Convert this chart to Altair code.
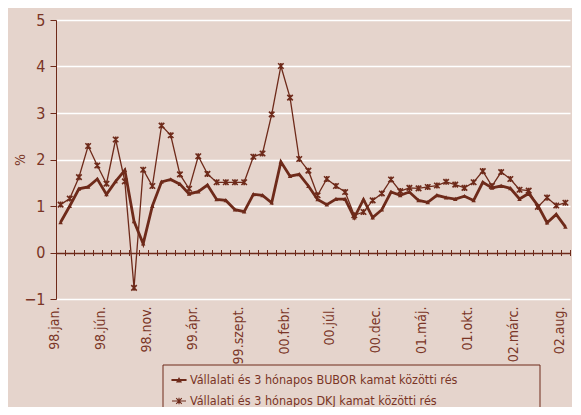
import altair as alt
import pandas as pd

# ---- data ----
series_names = [
    "Vállalati és 3 hónapos BUBOR kamat közötti rés",
    "Vállalati és 3 hónapos DKJ kamat közötti rés",
]
years = ["98", "99", "00", "01", "02"]
months = ["jan.", "febr.", "márc.", "ápr.", "máj.", "jún.", "júl.", "aug.",
          "szept.", "okt.", "nov.", "dec."]

bubor = [0.65, 1.00, 1.37, 1.41, 1.58, 1.25, 1.53, 1.77, 0.67, 0.19,
         1.00, 1.52, 1.57, 1.47, 1.26, 1.31, 1.45, 1.14, 1.12, 0.92,
         0.88, 1.25, 1.23, 1.07, 1.95, 1.64, 1.68, 1.43, 1.14, 1.03,
         1.15, 1.15, 0.75, 1.14, 0.75, 0.92, 1.30, 1.23, 1.30, 1.12,
         1.08, 1.23, 1.18, 1.15, 1.21, 1.12, 1.51, 1.39, 1.43, 1.38,
         1.15, 1.27, 1.01, 0.64, 0.82, 0.55]
dkj = [1.03, 1.16, 1.62, 2.29, 1.87, 1.48, 2.43, 1.53, -0.76, 1.78,
       1.43, 2.73, 2.52, 1.68, 1.37, 2.07, 1.69, 1.51, 1.51, 1.51,
       1.51, 2.06, 2.13, 2.97, 4.01, 3.33, 2.01, 1.76, 1.23, 1.58,
       1.43, 1.30, 0.80, 0.87, 1.12, 1.27, 1.57, 1.32, 1.39, 1.38,
       1.41, 1.44, 1.52, 1.46, 1.39, 1.51, 1.75, 1.43, 1.73, 1.58,
       1.35, 1.33, 0.98, 1.18, 1.01, 1.07]

y_ticks = [-1, 0, 1, 2, 3, 4, 5]
label_step = 5

# ---- build tables ----
n = len(bubor)
cat_labels = []
for k in range(n):
    cat_labels.append(years[k // 12] + "." + months[k % 12])

rows = []
for k in range(n):
    rows.append({"i": k, "series": series_names[0], "value": bubor[k]})
    rows.append({"i": k, "series": series_names[1], "value": dkj[k]})
df = pd.DataFrame(rows)
legend_df = pd.DataFrame({"label": series_names})
box_df = pd.DataFrame({"a": [0]})

BROWN = "#6e2a1a"
TEXT = "#7a3526"
BG = "#e5d4cc"
FONT = "Liberation Sans Narrow, Arial Narrow, DejaVu Sans Condensed, sans-serif"

W, H = 514, 279
x_scale = alt.Scale(domain=[-0.5, n - 0.5], nice=False, zero=False)
y_scale = alt.Scale(domain=[y_ticks[0], y_ticks[-1]], nice=False)

labels_js = "[" + ",".join("'" + l + "'" for l in cat_labels) + "]"
label_axis = alt.Axis(
    orient="bottom", values=list(range(0, n, label_step)),
    labelExpr=labels_js + "[datum.value]", labelAngle=-90,
    domain=False, ticks=False, grid=False, title=None,
    labelFont=FONT, labelFontSize=14, labelColor=TEXT,
    labelPadding=7, labelOffset=-6, labelOverlap=False, labelFlush=False,
)
tick_axis = alt.Axis(
    orient="bottom", values=[k - 0.5 for k in range(n + 1)],
    labels=False, domain=False, ticks=True, tickSize=6, tickColor=BROWN,
    tickWidth=1, grid=False, title=None,
    offset=-(H / (y_ticks[-1] - y_ticks[0]) * (0 - y_ticks[0]) + 3),
)
y_axis = alt.Axis(
    values=y_ticks, title="%", titleFont=FONT, titleFontSize=14,
    titleFontWeight="normal", titleColor=TEXT,
    titleX=-36, titleY=H / 2, titleAngle=-90, titleAlign="center",
    titleBaseline="middle",
    labelFont=FONT, labelFontSize=16, labelColor=TEXT, labelPadding=5,
    domainColor=BROWN, domainWidth=1, tickColor=BROWN, tickSize=6,
    grid=True, gridWidth=1.5,
    gridColor=alt.condition("datum.value === 0", alt.value(BROWN), alt.value("white")),
)


def yenc():
    return alt.Y("value:Q", scale=y_scale, axis=y_axis, title="%")


base = alt.Chart(df)

line_b = base.transform_filter(alt.datum.series == series_names[0]).mark_line(
    color=BROWN, strokeWidth=2.8, strokeJoin="miter"
).encode(x=alt.X("i:Q", scale=x_scale, axis=label_axis), y=yenc())

line_d = base.transform_filter(alt.datum.series == series_names[1]).mark_line(
    color=BROWN, strokeWidth=1.3
).encode(x=alt.X("i:Q", scale=x_scale, axis=None), y=yenc())

TRI = "M0,-1L0.95,0.8L-0.95,0.8Z"
AST = "M-1,-1L1,1M1,-1L-1,1M0,-1.1L0,1.1"

pts_b = base.transform_filter(alt.datum.series == series_names[0]).mark_point(
    shape=TRI, filled=True, color=BROWN, size=22, opacity=1
).encode(x=alt.X("i:Q", scale=x_scale, axis=tick_axis), y=yenc())

pts_d = base.transform_filter(alt.datum.series == series_names[1]).mark_point(
    shape=AST, filled=False, color=BROWN, size=30, strokeWidth=1.6, opacity=1
).encode(x=alt.X("i:Q", scale=x_scale, axis=None), y=yenc())

LEG_B = "M-1,-0.08H1V0.08H-1Z M-0.3,0.28L0,-0.28L0.3,0.28Z M-0.15,0.15H0.15"
LEG_D = "M-1,0H1 M-0.4,-0.4L0.4,0.4 M0.4,-0.4L-0.4,0.4 M0,-0.45V0.45"

legend_layer = alt.Chart(legend_df).mark_point(
    filled=False, color=BROWN, opacity=0
).encode(
    shape=alt.Shape(
        "label:N",
        scale=alt.Scale(domain=series_names, range=[LEG_B, LEG_D]),
        legend=alt.Legend(
            title=None, orient="none", legendX=115, legendY=352,
            labelFont=FONT, labelFontSize=12.5, labelColor=TEXT, labelLimit=0,
            symbolSize=196, symbolStrokeColor=BROWN,
            symbolStrokeWidth=1.1, symbolOpacity=1, rowPadding=6,
            labelOffset=3, padding=0,
        ),
    )
)

box = alt.Chart(box_df).mark_rect(
    filled=False, stroke=BROWN, strokeWidth=1
).encode(
    x=alt.value(107), x2=alt.value(484), y=alt.value(345), y2=alt.value(400)
)

chart = alt.layer(
    line_d, line_b, pts_d, pts_b, legend_layer, box
).resolve_axis(x="independent").resolve_scale(shape="independent").properties(
    width=W, height=H,
    autosize=alt.AutoSizeParams(type="none"),
    padding={"left": 48, "top": 12, "right": 2, "bottom": 108},
    background=BG,
).configure_view(stroke=None, fill=BG)

chart.save("out.html", embed_options={"renderer": "svg", "actions": False})
